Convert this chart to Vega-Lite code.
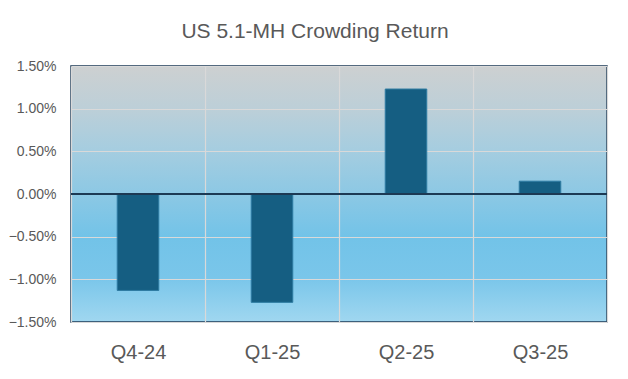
{
  "$schema": "https://vega.github.io/schema/vega-lite/v6.json",
  "width": 536,
  "height": 256,
  "autosize": {"type": "none"},
  "padding": {"left": 71, "top": 66, "right": 21, "bottom": 57},
  "background": "white",
  "title": {
    "text": "US 5.1-MH Crowding Return",
    "font": "Liberation Sans",
    "fontSize": 21,
    "fontWeight": "normal",
    "color": "#595959",
    "anchor": "middle",
    "baseline": "alphabetic",
    "offset": 0,
    "dx": -24
  },
  "config": {
    "view": {
      "stroke": "#1d3a55",
      "strokeWidth": 1.5,
      "fill": {
        "gradient": "linear",
        "x1": 0, "y1": 0, "x2": 0, "y2": 1,
        "stops": [
          {"offset": 0, "color": "#cdd0d1"},
          {"offset": 0.17, "color": "#bccfd8"},
          {"offset": 0.33, "color": "#a5cde0"},
          {"offset": 0.5, "color": "#8cc8e4"},
          {"offset": 0.67, "color": "#72c3e8"},
          {"offset": 0.83, "color": "#7ac6ea"},
          {"offset": 1, "color": "#a0d7f0"}
        ]
      }
    },
    "axis": {
      "labelFont": "Liberation Sans",
      "labelColor": "#595959",
      "domain": false,
      "ticks": false,
      "title": null,
      "gridColor": "#d9d9d9",
      "gridWidth": 1.2,
      "gridOpacity": 1
    }
  },
  "data": {
    "values": [
      {"quarter": "Q4-24", "ret": -0.0113},
      {"quarter": "Q1-25", "ret": -0.0127},
      {"quarter": "Q2-25", "ret": 0.0123},
      {"quarter": "Q3-25", "ret": 0.0015}
    ]
  },
  "layer": [
    {
      "mark": {"type": "bar", "color": "#155e82", "stroke": "#2e7ba2", "strokeWidth": 1, "width": {"band": 0.31}},
      "encoding": {
        "x": {
          "field": "quarter",
          "type": "nominal",
          "sort": null,
          "scale": {"paddingInner": 0, "paddingOuter": 0},
          "axis": {
            "labelAngle": 0,
            "labelFontSize": 20,
            "labelPadding": 20,
            "grid": true,
            "tickBand": "extent"
          }
        },
        "y": {
          "field": "ret",
          "type": "quantitative",
          "scale": {"domain": [-0.015, 0.015], "nice": false},
          "axis": {
            "values": [-0.015, -0.01, -0.005, 0, 0.005, 0.01, 0.015],
            "format": ".2%",
            "labelFontSize": 14,
            "labelPadding": 15,
            "grid": true
          }
        }
      }
    },
    {
      "mark": {"type": "rule", "color": "#1d3a55", "strokeWidth": 1.5},
      "encoding": {"y": {"datum": 0}}
    }
  ]
}
